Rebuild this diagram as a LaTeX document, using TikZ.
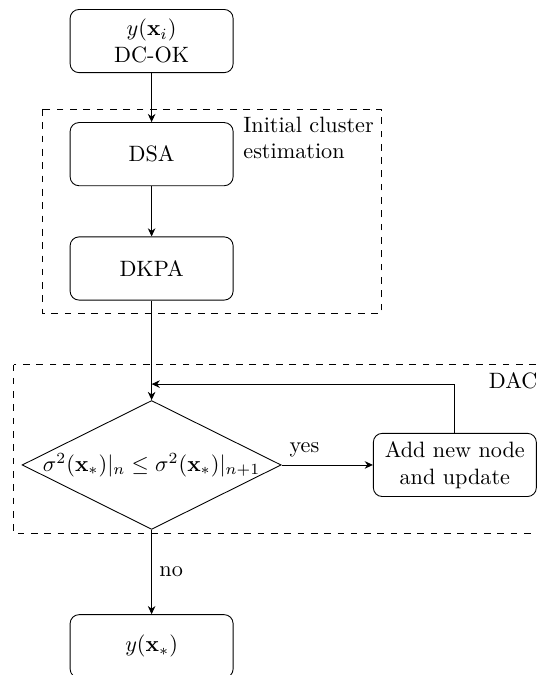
\documentclass[tikz,border=0pt]{standalone}
\usepackage{amsmath,amssymb}
\usepackage{tikz}
\usetikzlibrary{arrows.meta,shapes.geometric}
\tikzset{
  block/.style    = {draw,rounded corners,minimum width=2.58cm,minimum height=1cm,align=center},
  decision/.style = {draw,diamond,minimum width=4.1cm,minimum height=2.04cm,inner sep=0pt},
  groupbox/.style = {draw,dashed},
  flowarr/.style  = {-{Stealth[length=1.3mm,width=1.2mm]}}
}

\begin{document}
\begin{tikzpicture}
  \useasboundingbox (0,0) rectangle (8.485,-10.685);
  % dashed groups
  \draw[groupbox] (0.676,-1.725) rectangle (6.04,-4.96);
  \node[anchor=north east,align=left] (initlbl) at (6.04,-1.725) {Initial cluster\\estimation};
  \draw[groupbox] (0.22,-5.77) rectangle (8.63,-8.45);
  \node[anchor=north east] (daclbl) at (8.63,-5.77) {DAC};
  % blocks
  \node[block] (input) at (2.40,-0.65) {$y(\mathbf{x}_i)$\\DC-OK};
  \node[block] (dsa) at (2.40,-2.44) {DSA};
  \node[block] (dkpa) at (2.40,-4.25) {DKPA};
  \node[decision,label={[name=condlbl]center:{$\sigma^2(\mathbf{x}_*)|_n \leq \sigma^2(\mathbf{x}_*)|_{n+1}$}}] (cond) at (2.40,-7.36) {};
  \node[block] (addnode) at (7.20,-7.36) {Add new node\\and update};
  \node[block] (output) at (2.40,-10.23) {$y(\mathbf{x}_*)$};
  \coordinate (loop) at (2.40,-6.08);
  % connectors
  \draw[flowarr] (input) -- (dsa);
  \draw[flowarr] (dsa) -- (dkpa);
  \draw[flowarr] (dkpa) -- (cond);
  \draw[flowarr] (cond) -- node[above,pos=0.25] (yeslbl) {yes} (addnode);
  \draw[flowarr] (addnode) |- (loop);
  \draw[flowarr] (cond) -- node[right] (nolbl) {no} (output);
\end{tikzpicture}
\end{document}
